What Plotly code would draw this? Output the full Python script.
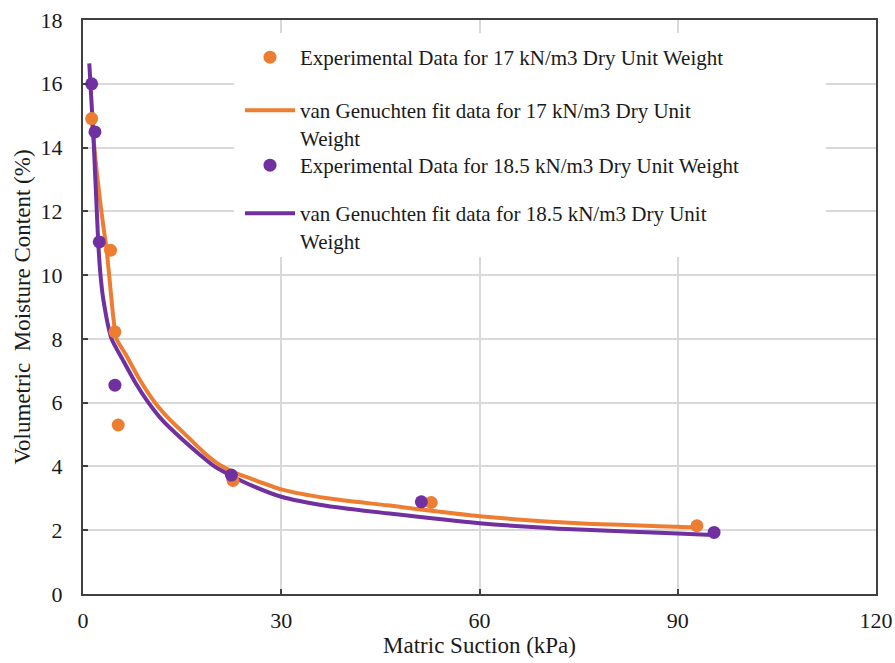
import plotly.graph_objects as go

# ---- data ----
exp17_x = [1.31, 4.17, 4.83, 5.33, 22.7, 52.7, 92.9]
exp17_y = [14.91, 10.78, 8.22, 5.3, 3.56, 2.87, 2.14]

fit17_x = [1.31, 1.9, 2.57, 3.1, 3.58, 4.08, 4.58, 5.07, 6.5, 8.5, 10.9, 13, 16, 18.5,
           20.9, 23, 25, 30, 37, 46, 60, 75, 90, 92.7]
fit17_y = [14.9, 13.6, 12.35, 11.5, 10.78, 9.74, 8.69, 8.0, 7.5, 6.75, 6.0, 5.5, 4.9, 4.4,
           4.02, 3.8, 3.65, 3.28, 3.0, 2.78, 2.44, 2.22, 2.11, 2.08]

exp185_x = [1.31, 1.81, 2.46, 4.83, 22.45, 51.2, 95.5]
exp185_y = [16.0, 14.49, 11.04, 6.55, 3.73, 2.89, 1.93]

fit185_x = [0.95, 1.56, 2.3, 2.65, 3.1, 4.33, 6.0, 8.0, 9.9, 12, 15, 17.5, 19.9, 22.5,
            25, 30, 37, 46, 60, 75, 90, 95.3]
fit185_y = [16.64, 14.44, 11.04, 10.0, 9.2, 8.0, 7.35, 6.6, 6.0, 5.45, 4.85, 4.4, 4.0, 3.7,
            3.45, 3.05, 2.76, 2.53, 2.22, 2.02, 1.9, 1.85]

names = [
    "Experimental Data for 17 kN/m3 Dry Unit Weight",
    "van Genuchten fit data for 17 kN/m3 Dry Unit<br>Weight",
    "Experimental Data for 18.5 kN/m3 Dry Unit Weight",
    "van Genuchten fit data for 18.5 kN/m3 Dry Unit<br>Weight",
]

x_ticks = [0, 30, 60, 90, 120]
y_ticks = [0, 2, 4, 6, 8, 10, 12, 14, 16, 18]

ORANGE = "#ED7D31"
PURPLE = "#7030A0"
FONT = "Liberation Serif"
TXT = "#1a1a1a"

fig = go.Figure()
fig.add_trace(go.Scatter(x=fit17_x, y=fit17_y, mode="lines", name=names[1],
                         line=dict(color=ORANGE, width=4, shape="spline", smoothing=0.6),
                         legend="legend2"))
fig.add_trace(go.Scatter(x=fit185_x, y=fit185_y, mode="lines", name=names[3],
                         line=dict(color=PURPLE, width=4, shape="spline", smoothing=0.6),
                         legend="legend4"))
fig.add_trace(go.Scatter(x=exp17_x, y=exp17_y, mode="markers", name=names[0],
                         marker=dict(color=ORANGE, size=13), legend="legend"))
fig.add_trace(go.Scatter(x=exp185_x, y=exp185_y, mode="markers", name=names[2],
                         marker=dict(color=PURPLE, size=13), legend="legend3"))

L, R, T, B = 83, 19, 20, 69
W, H = 895, 663
pw, ph = W - L - R, H - T - B
XMAX, YMAX = 120, 18

def px2x(p):
    return (p - L) / pw

def py2y(p):
    return (H - B - p) / ph

leg_common = dict(xanchor="left", yanchor="top", bgcolor="rgba(0,0,0,0)",
                  borderwidth=0, valign="top", itemwidth=50,
                  font=dict(family=FONT, size=21, color=TXT))
LX = 240
fig.update_layout(
    showlegend=True,
    legend=dict(x=px2x(LX), y=py2y(37), **leg_common),
    legend2=dict(x=px2x(LX), y=py2y(90), **leg_common),
    legend3=dict(x=px2x(LX), y=py2y(145), **leg_common),
    legend4=dict(x=px2x(LX), y=py2y(193), **leg_common),
)

# white background behind legend area (hides gridlines there)
fig.add_shape(type="rect", xref="x", yref="y",
              x0=px2x(234) * XMAX, x1=px2x(826) * XMAX,
              y0=py2y(257) * YMAX, y1=py2y(33) * YMAX,
              fillcolor="white", line=dict(width=0), layer="between")

axis_common = dict(showline=True, linecolor="#404040", linewidth=2, mirror=True,
                   showgrid=True, gridcolor="#D9D9D9", gridwidth=1.5,
                   ticks="inside", ticklen=5, tickcolor="#404040", tickwidth=1.5,
                   zeroline=False,
                   tickfont=dict(family=FONT, size=22, color=TXT))

fig.update_xaxes(range=[0, XMAX], tickvals=x_ticks, ticklabelstandoff=6,
                 title=dict(text="Matric Suction (kPa)", standoff=2,
                            font=dict(family=FONT, size=23, color=TXT)),
                 **axis_common)
fig.update_yaxes(range=[0, YMAX], tickvals=y_ticks, ticklabelstandoff=14,
                 title=dict(text="Volumetric&nbsp; Moisture Content (%)", standoff=4,
                            font=dict(family=FONT, size=23, color=TXT)),
                 **axis_common)

fig.update_layout(width=W, height=H, margin=dict(l=L, r=R, t=T, b=B, autoexpand=False),
                  plot_bgcolor="white", paper_bgcolor="white")

fig.write_html("out.html")
